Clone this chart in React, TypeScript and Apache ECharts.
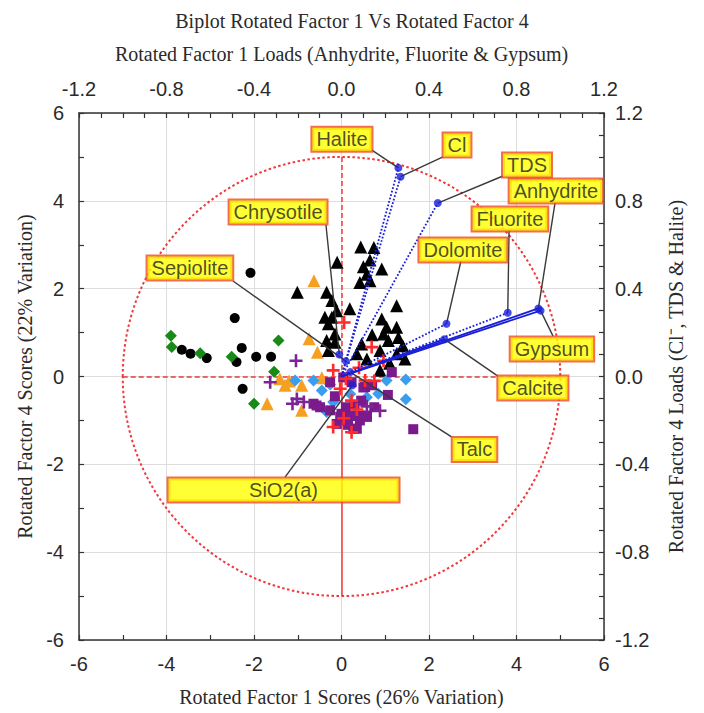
import React, { useEffect, useRef } from "react";
import * as echarts from "echarts";

// Sample scores: [Rotated Factor 1, Rotated Factor 4]
const blackCircleScores: number[][] = [
  [-2.08, 2.36], [-2.44, 1.33], [-3.65, 0.61], [-3.45, 0.52], [-3.08, 0.42],
  [-2.28, 0.65], [-2.40, 0.33], [-1.95, 0.45], [-1.61, 0.45], [-2.26, -0.28],
];
const greenDiamondScores: number[][] = [
  [-3.90, 0.93], [-3.88, 0.67], [-3.23, 0.53], [-2.51, 0.45], [-1.44, 0.82],
  [-1.54, 0.11], [-2.00, -0.62],
];
const orangeTriangleScores: number[][] = [
  [-0.63, 2.18], [-0.74, 0.86], [-0.55, 0.55], [-1.41, -0.05], [-1.29, -0.20],
  [-0.91, -0.20], [-0.45, -0.03], [-1.70, -0.62], [-0.91, -0.77], [-1.20, -0.10],
];
const blackTriangleScores: number[][] = [
  [0.44, 2.95], [0.74, 2.94], [0.65, 2.65], [0.50, 2.50], [0.92, 2.45],
  [0.58, 2.33], [0.42, 2.14], [0.65, 2.18], [-0.10, 2.60], [-0.34, 1.92],
  [-0.22, 1.73], [-0.38, 1.35], [-0.22, 1.35], [-0.11, 1.50], [0.19, 1.54],
  [-0.30, 1.20], [-0.15, 0.97], [1.26, 1.61], [0.92, 1.31], [1.03, 1.12],
  [1.26, 1.12], [0.96, 0.97], [-1.01, 1.92], [-0.34, 0.82], [-0.30, 0.59],
  [-0.15, 0.78], [0.46, 0.74], [0.35, 0.52], [0.88, 0.59], [1.07, 0.82],
  [1.30, 0.89], [1.45, 0.40], [0.88, 0.14], [1.26, 0.52], [0.58, 0.40],
  [1.10, 0.30], [0.70, 0.95], [1.40, 0.70],
];
const redPlusScores: number[][] = [
  [0.06, 1.23], [0.69, 0.67], [-0.19, 0.14], [-0.03, -0.28], [0.23, -0.55],
  [0.54, -0.09], [0.75, -0.10], [-0.19, -1.15], [0.23, -1.27], [0.96, 0.36],
  [0.40, 0.20], [0.10, -0.05], [0.35, -0.75], [0.05, -0.95],
];
const purplePlusScores: number[][] = [
  [-1.04, 0.36], [-1.63, -0.13], [-1.02, -0.51], [-1.12, -0.62], [-0.86, -0.58],
  [0.88, -0.78], [0.58, -0.68],
];
const blueDiamondScores: number[][] = [
  [-1.06, -0.09], [-0.64, -0.09], [-0.45, -0.32], [-0.19, -0.58], [-0.34, -0.81],
  [0.31, -0.85], [0.58, -0.47], [0.84, -0.39], [1.03, -0.09], [1.47, -0.07],
  [1.47, -0.52], [-0.26, -0.18], [0.20, -0.40],
];
const purpleSquareScores: number[][] = [
  [1.15, 0.10], [1.06, -0.42], [1.64, -1.20], [-0.26, -0.13], [-0.64, -0.62],
  [-0.49, -0.70], [0.00, -0.85], [0.12, -1.00], [0.42, -1.00], [0.58, -0.89],
  [0.35, -1.19], [-0.11, -1.08], [0.54, -0.24], [0.23, -0.13], [0.04, -0.02],
  [-0.57, -0.66], [-0.26, -0.77], [-0.03, -0.92], [0.42, -0.89], [0.58, -0.92],
  [0.27, -1.19], [0.50, -0.25], [0.70, -0.20], [0.10, -0.70], [0.30, -0.65],
  [0.20, -0.90], [-0.15, -0.45], [0.45, -0.55], [0.75, -0.70], [0.15, -1.10],
];

// Variable loadings on Rotated Factor 1 and Rotated Factor 4
const variableNames = [
  "Halite", "Cl", "TDS", "Anhydrite", "Fluorite", "Dolomite",
  "Gypsum", "Calcite", "Chrysotile", "Sepiolite", "Talc", "SiO2(a)",
];
const loadingsF1 = [0.26, 0.27, 0.44, 0.90, 0.76, 0.48, 0.91, 0.47, -0.01, 0.02, 0.04, 0.05];
const loadingsF4 = [0.95, 0.91, 0.79, 0.31, 0.29, 0.24, 0.30, 0.17, 0.10, 0.07, 0.02, -0.04];

// Ticks for the four frame axes
const scoreTicks = { min: -6, max: 6, step: 2 };
const loadTicks = { min: -1.2, max: 1.2, step: 0.4 };

// Vector line style per variable (variables close to the origin get none)
const vectorDash: Record<string, "solid" | "dotted"> = {
  Halite: "dotted", Cl: "dotted", TDS: "dotted", Fluorite: "dotted",
  Dolomite: "dotted", Anhydrite: "solid", Gypsum: "solid", Calcite: "solid",
};

// Callout placement in loading units: box centre and leader start
const callouts: Record<string, { centre: number[]; leader: number[]; width?: number }> = {
  Halite: { centre: [0.002, 1.081], leader: [0.139, 1.031] },
  Cl: { centre: [0.528, 1.054], leader: [0.464, 1.0] },
  TDS: { centre: [0.848, 0.963], leader: [0.738, 0.913] },
  Anhydrite: { centre: [0.98, 0.845], leader: [0.976, 0.79] },
  Fluorite: { centre: [0.77, 0.717], leader: [0.766, 0.667] },
  Dolomite: { centre: [0.555, 0.576], leader: [0.546, 0.526] },
  Gypsum: { centre: [0.962, 0.125], leader: [0.967, 0.184] },
  Calcite: { centre: [0.875, -0.052], leader: [0.715, 0.002] },
  Chrysotile: { centre: [-0.29, 0.749], leader: [-0.071, 0.69] },
  Sepiolite: { centre: [-0.693, 0.494], leader: [-0.496, 0.435] },
  Talc: { centre: [0.608, -0.332], leader: [0.505, -0.276] },
  "SiO2(a)": { centre: [-0.265, -0.517], leader: [-0.258, -0.458], width: 222 },
};

const SANS = "'Liberation Sans', Arial, Helvetica, sans-serif";
const SERIF = "'Liberation Serif', 'Times New Roman', Times, serif";
const RED = "#f2383a";
const BLUE = "#1a1fd8";
const PLUS = "path://M4,0H6V4H10V6H6V10H4V6H0V4H4Z";

const fmt1 = (v: number) => (Math.abs(v) < 1e-9 ? 0 : v).toFixed(1);

function buildOption() {
  const axisLine = { show: true, onZero: false, lineStyle: { color: "#333", width: 1.5 } };
  const axisTick = { show: true, inside: true, length: 5, lineStyle: { color: "#333", width: 1.2 } };
  const tickText = { fontFamily: SANS, fontSize: 20, color: "#2a2a2a" };
  const nameText = { fontFamily: SERIF, fontSize: 20, color: "#2a2a2a" };
  const split = { show: true, lineStyle: { color: "#dddddd", width: 1 } };

  const scatter = (data: number[][], symbol: string, size: number, color: string) => ({
    type: "scatter",
    xAxisIndex: 0,
    yAxisIndex: 0,
    symbol,
    symbolSize: size,
    itemStyle: { color, opacity: 1 },
    silent: true,
    z: 3,
    data,
  });

  const loadingPoint = (i: number) => [loadingsF1[i], loadingsF4[i]];

  return {
    animation: false,
    backgroundColor: "#ffffff",
    title: {
      text: "Biplot Rotated Factor 1 Vs Rotated Factor 4",
      left: "center",
      top: 6,
      textStyle: { ...nameText, fontWeight: "normal" },
    },
    grid: { left: 79, right: 100, top: 113, bottom: 73 },
    xAxis: [
      {
        type: "value",
        position: "bottom",
        min: scoreTicks.min,
        max: scoreTicks.max,
        interval: scoreTicks.step,
        axisLine,
        axisTick,
        minorTick: { show: true, splitNumber: 2, length: 5, lineStyle: { color: "#333", width: 1.2 } },
        splitLine: split,
        axisLabel: { ...tickText, margin: 14 },
        name: "Rotated Factor 1 Scores (26% Variation)",
        nameLocation: "middle",
        nameGap: 47,
        nameTextStyle: nameText,
      },
      {
        type: "value",
        position: "top",
        min: loadTicks.min,
        max: loadTicks.max,
        interval: loadTicks.step,
        axisLine,
        axisTick,
        minorTick: { show: true, splitNumber: 4, length: 5, lineStyle: { color: "#333", width: 1.2 } },
        splitLine: { show: false },
        axisLabel: { ...tickText, margin: 14, formatter: fmt1 },
        name: "Rotated Factor 1 Loads (Anhydrite, Fluorite & Gypsum)",
        nameLocation: "middle",
        nameGap: 49,
        nameTextStyle: nameText,
      },
    ],
    yAxis: [
      {
        type: "value",
        position: "left",
        min: scoreTicks.min,
        max: scoreTicks.max,
        interval: scoreTicks.step,
        axisLine,
        axisTick,
        minorTick: { show: true, splitNumber: 2, length: 5, lineStyle: { color: "#333", width: 1.2 } },
        splitLine: split,
        axisLabel: { ...tickText, margin: 15 },
        name: "Rotated Factor 4 Scores (22% Variation)",
        nameLocation: "middle",
        nameRotate: 90,
        nameGap: 38,
        nameTextStyle: nameText,
      },
      {
        type: "value",
        position: "right",
        min: loadTicks.min,
        max: loadTicks.max,
        interval: loadTicks.step,
        axisLine,
        axisTick,
        minorTick: { show: true, splitNumber: 4, length: 5, lineStyle: { color: "#333", width: 1.2 } },
        splitLine: { show: false },
        axisLabel: { ...tickText, margin: 11, formatter: fmt1 },
        name: "Rotated Factor 4 Loads (Cl\u207B, TDS & Halite)",
        nameLocation: "middle",
        nameRotate: 90,
        nameGap: 62,
        nameTextStyle: nameText,
      },
    ],
    series: [
      // unit loading circle (radius 1.0 in loading units = 5 in score units)
      {
        type: "custom",
        xAxisIndex: 1,
        yAxisIndex: 1,
        silent: true,
        z: 1,
        data: [[0, 0, 1]],
        renderItem: (_p: any, api: any) => {
          const c = api.coord([api.value(0), api.value(1)]);
          const r = api.size([api.value(2), api.value(2)]);
          return {
            type: "ellipse",
            shape: { cx: c[0], cy: c[1], rx: r[0], ry: r[1] },
            style: { fill: "none", stroke: RED, lineWidth: 2, lineDash: [2.5, 2.5] },
          };
        },
      },
      // red reference axes through the origin
      {
        type: "lines",
        coordinateSystem: "cartesian2d",
        xAxisIndex: 1,
        yAxisIndex: 1,
        silent: true,
        z: 1,
        lineStyle: { color: RED, width: 1.5, opacity: 1 },
        data: [
          { coords: [[-1, 0], [1, 0]], lineStyle: { type: [5, 3] } },
          { coords: [[0, 1], [0, 0]], lineStyle: { type: [5, 3] } },
          { coords: [[0, 0], [0, -1]], lineStyle: { type: "solid" } },
        ],
      },
      scatter(blackCircleScores, "circle", 10, "#000000"),
      scatter(greenDiamondScores, "diamond", 12, "#178a17"),
      scatter(orangeTriangleScores, "triangle", 13, "#f6a021"),
      scatter(blackTriangleScores, "triangle", 13, "#000000"),
      scatter(blueDiamondScores, "diamond", 12, "#3a9ded"),
      scatter(purpleSquareScores, "rect", 10, "#7a1a8c"),
      scatter(purplePlusScores, PLUS, 13, "#7d2597"),
      scatter(redPlusScores, PLUS, 13, "#ff2a2a"),
      // loading vectors
      {
        type: "lines",
        coordinateSystem: "cartesian2d",
        xAxisIndex: 1,
        yAxisIndex: 1,
        silent: true,
        z: 4,
        lineStyle: { color: BLUE, width: 1.8, opacity: 1 },
        data: variableNames
          .map((n, i) => ({ n, i }))
          .filter(({ n }) => vectorDash[n])
          .map(({ n, i }) => ({
            coords: [[0, 0], loadingPoint(i)],
            lineStyle: { type: vectorDash[n] },
          })),
      },
      // callout leaders
      {
        type: "lines",
        coordinateSystem: "cartesian2d",
        xAxisIndex: 1,
        yAxisIndex: 1,
        silent: true,
        z: 5,
        lineStyle: { color: "#3a3a3a", width: 1.4, type: "solid", opacity: 1 },
        data: variableNames.map((n, i) => ({ coords: [callouts[n].leader, loadingPoint(i)] })),
      },
      // loading end points
      {
        type: "scatter",
        xAxisIndex: 1,
        yAxisIndex: 1,
        symbol: "circle",
        symbolSize: 8,
        itemStyle: { color: BLUE },
        silent: true,
        z: 6,
        data: variableNames.map((_, i) => loadingPoint(i)),
      },
      // callout boxes
      {
        type: "scatter",
        xAxisIndex: 1,
        yAxisIndex: 1,
        symbolSize: 1,
        itemStyle: { color: "rgba(0,0,0,0)" },
        silent: true,
        z: 10,
        label: {
          show: true,
          position: "inside",
          formatter: "{b}",
          fontFamily: SANS,
          fontSize: 20,
          lineHeight: 20,
          color: "#1e1e1e",
          backgroundColor: "#ffff00",
          borderColor: "#ee4a22",
          borderWidth: 2,
          padding: [2, 4, 1, 4],
        },
        data: variableNames.map((n) => ({
          name: n,
          value: callouts[n].centre,
          label: callouts[n].width ? { width: callouts[n].width, align: "center" } : undefined,
        })),
      },
    ],
  };
}

export default function App() {
  const ref = useRef<HTMLDivElement>(null);
  useEffect(() => {
    document.body.style.margin = "0";
    if (!ref.current) return;
    const chart = echarts.init(ref.current, undefined, { renderer: "svg" });
    chart.setOption(buildOption() as any);
    return () => chart.dispose();
  }, []);
  return <div ref={ref} style={{ width: 704, height: 713 }} />;
}
